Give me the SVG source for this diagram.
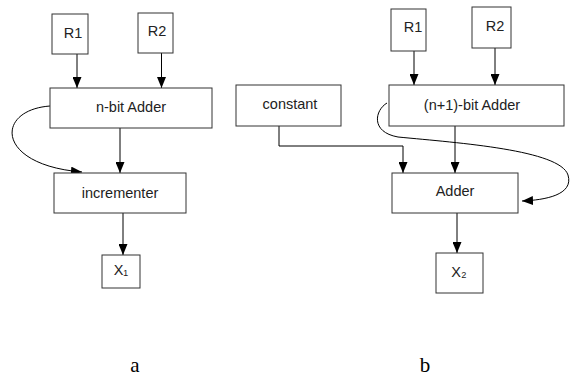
<svg xmlns="http://www.w3.org/2000/svg" width="571" height="390" viewBox="0 0 571 390">
  <defs>
    <marker id="arr" viewBox="0 0 11 9" markerWidth="11" markerHeight="9" refX="11" refY="4.5" orient="auto" markerUnits="userSpaceOnUse">
      <path d="M0,0 L11,4.5 L0,9 z" fill="#000"/>
    </marker>
    <style>
      .box { fill: #fff; stroke: #333; stroke-width: 1; }
      .lbl { font-family: "Liberation Sans", "DejaVu Sans", sans-serif; font-size: 14.5px; fill: #222; text-anchor: middle; }
      .cap { font-family: "Liberation Serif", serif; font-size: 21px; fill: #000; text-anchor: middle; }
      .conn { fill: none; stroke: #000; stroke-width: 1; marker-end: url(#arr); }
    </style>
  </defs>
  <rect width="571" height="390" fill="#fff"/>

  <g id="connectors">
    <path class="conn" d="M77,54 V88"/>
    <path class="conn" d="M161.5,53 V88"/>
    <path class="conn" d="M120,128 V173"/>
    <path class="conn" d="M123,213 V255"/>
    <path class="conn" d="M50,106 C -5,110 -5,165 82,172"/>
    <path class="conn" d="M414,51 V85"/>
    <path class="conn" d="M495,48 V85"/>
    <path class="conn" d="M279,126 V146 H403 V173"/>
    <path class="conn" d="M455,126 V173"/>
    <path class="conn" d="M457,213 V253"/>
    <path class="conn" d="M387,103 C 375,110 370,132 398,137 C 460,143 560,150 568,175 C 574,195 545,200 522,201"/>
  </g>

  <g id="a-R1"><rect class="box" x="52" y="14" width="36" height="40"/><text class="lbl" x="73" y="38">R1</text></g>
  <g id="a-R2"><rect class="box" x="138" y="13" width="35" height="40"/><text class="lbl" x="157" y="36">R2</text></g>
  <g id="a-adder"><rect class="box" x="50" y="88" width="162" height="40"/><text class="lbl" x="131" y="112">n-bit Adder</text></g>
  <g id="a-incrementer"><rect class="box" x="54" y="173" width="132" height="40"/><text class="lbl" x="120" y="198">incrementer</text></g>
  <g id="a-X1"><rect class="box" x="102" y="255" width="38" height="33"/><text class="lbl" x="121" y="275">X₁</text></g>

  <g id="b-R1"><rect class="box" x="391" y="9" width="35" height="42"/><text class="lbl" x="413" y="32">R1</text></g>
  <g id="b-R2"><rect class="box" x="472" y="7" width="39" height="41"/><text class="lbl" x="495" y="31">R2</text></g>
  <g id="b-constant"><rect class="box" x="236" y="85" width="105" height="41"/><text class="lbl" x="290" y="109">constant</text></g>
  <g id="b-adder1"><rect class="box" x="389" y="85" width="175" height="41"/><text class="lbl" x="472" y="110">(n+1)-bit Adder</text></g>
  <g id="b-adder"><rect class="box" x="392" y="173" width="126" height="40"/><text class="lbl" x="455" y="196">Adder</text></g>
  <g id="b-X2"><rect class="box" x="436" y="253" width="47" height="40"/><text class="lbl" x="459" y="277">X₂</text></g>

  <text class="cap" x="135" y="372">a</text>
  <text class="cap" x="425" y="372">b</text>
</svg>
